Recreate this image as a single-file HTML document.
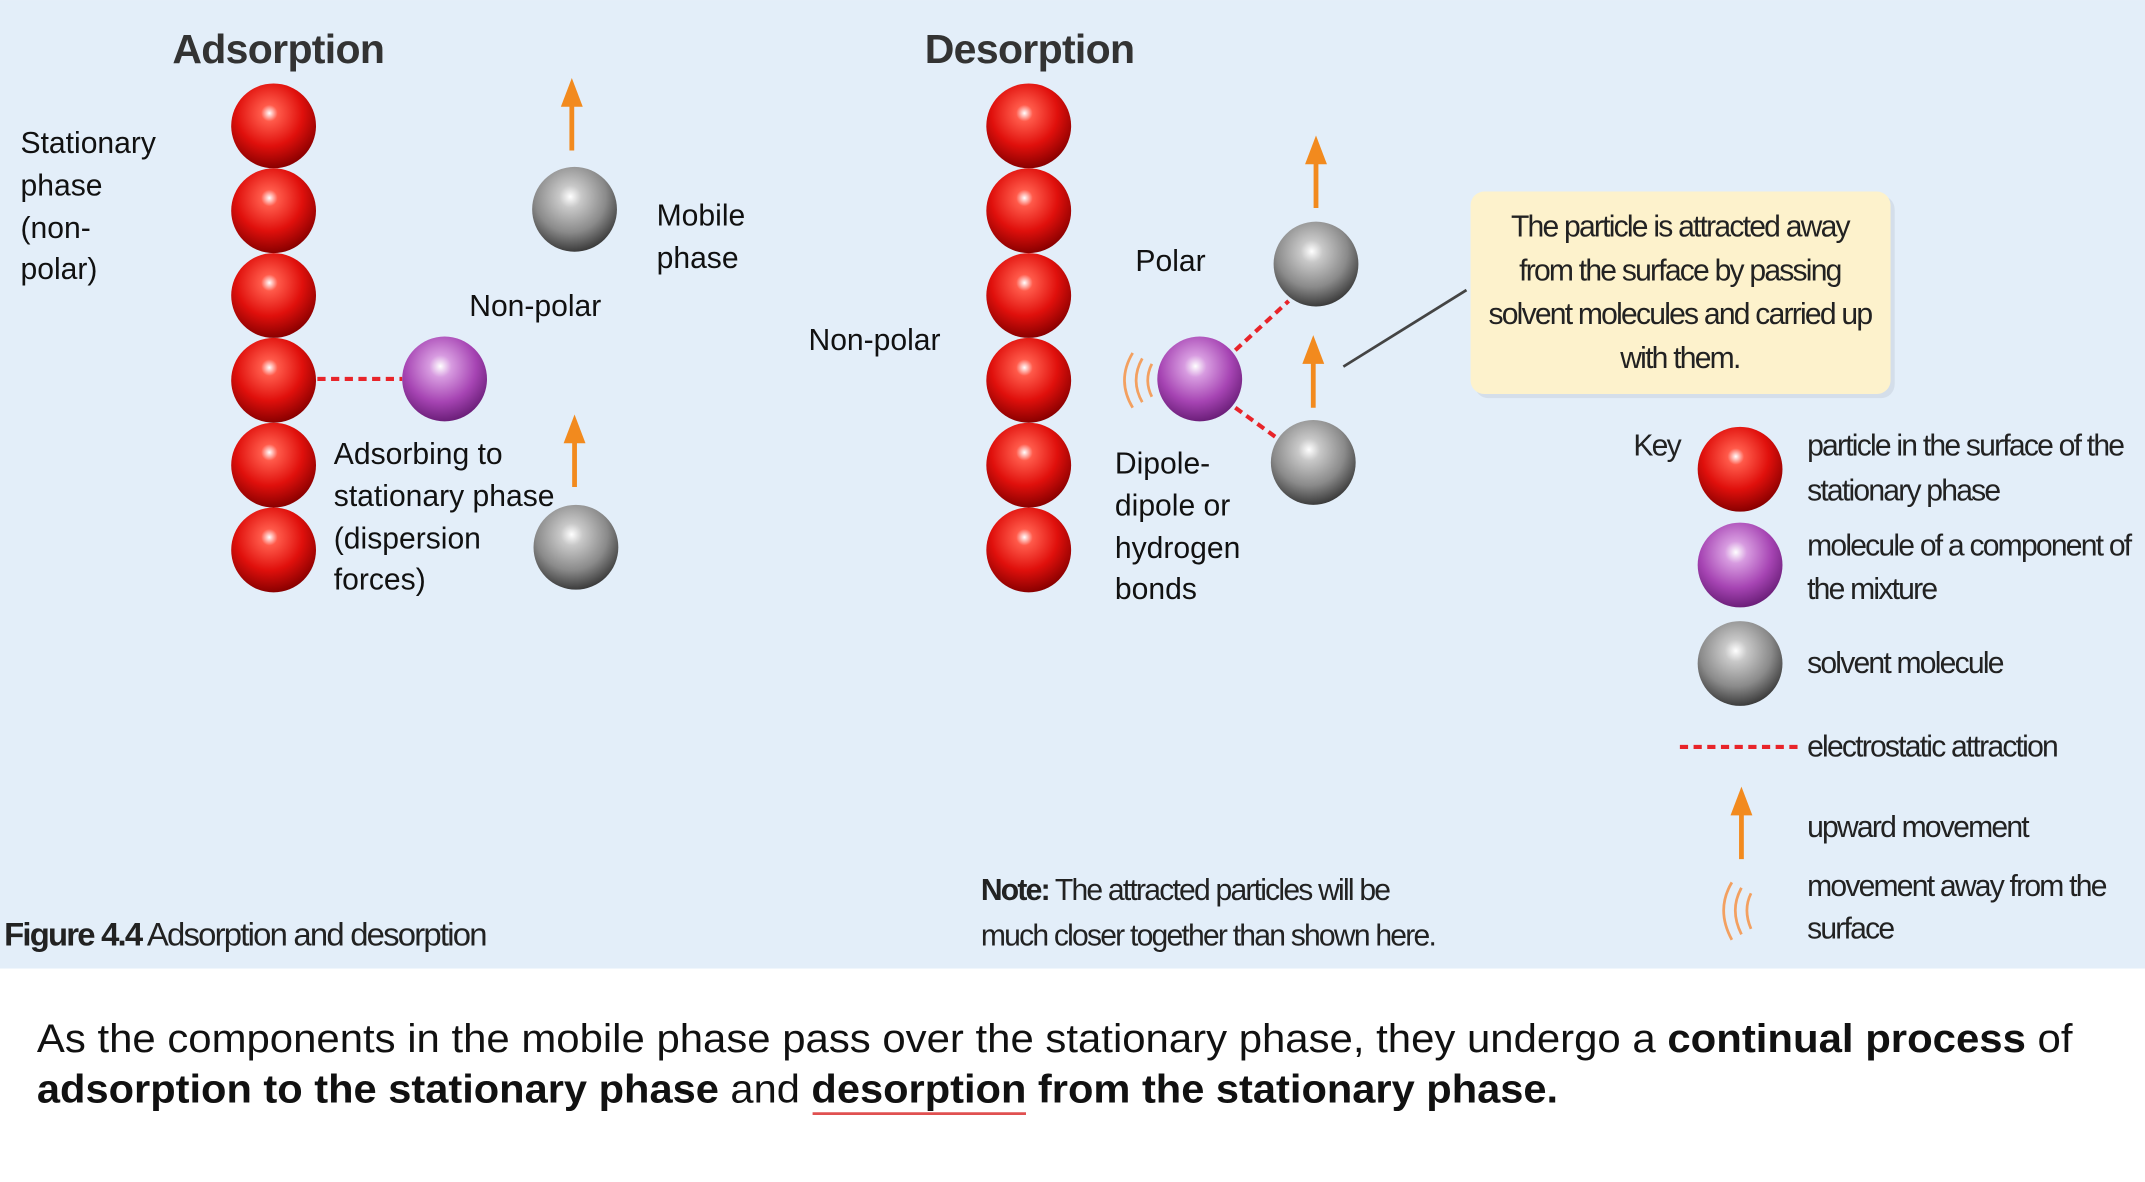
<!DOCTYPE html>
<html><head><meta charset="utf-8"><style>
html,body{margin:0;padding:0;background:#fff}
svg{display:block}
text{font-family:"Liberation Sans",sans-serif}
.lab{font-size:22px;fill:#111}
.cond{font-size:22px;fill:#222;letter-spacing:-1.3px}
.title{font-size:30px;font-weight:bold;fill:#333;letter-spacing:-0.5px}
</style></head><body>
<svg width="2145" height="1182" viewBox="0 0 1568 864" xmlns="http://www.w3.org/2000/svg">
<defs>
<radialGradient id="gr" cx="0.45" cy="0.35" r="0.65"><stop offset="0" stop-color="#fff"/><stop offset="0.15" stop-color="#ff5a4a"/><stop offset="0.6" stop-color="#e0100c"/><stop offset="1" stop-color="#8a0000"/></radialGradient>
<radialGradient id="gp" cx="0.45" cy="0.35" r="0.65"><stop offset="0" stop-color="#fff"/><stop offset="0.2" stop-color="#d79be0"/><stop offset="0.65" stop-color="#a644b3"/><stop offset="1" stop-color="#6c1f7a"/></radialGradient>
<radialGradient id="gg" cx="0.45" cy="0.35" r="0.65"><stop offset="0" stop-color="#fff"/><stop offset="0.2" stop-color="#c8c8c8"/><stop offset="0.65" stop-color="#8a8a8a"/><stop offset="1" stop-color="#3c3c3c"/></radialGradient>
</defs>
<rect x="0" y="0" width="1568" height="708" fill="#e3eef9"/>
<text x="126" y="46" class="title">Adsorption</text>
<text x="676" y="46" class="title">Desorption</text>
<g>
<circle cx="200" cy="92" r="31" fill="url(#gr)"/><circle cx="200" cy="154" r="31" fill="url(#gr)"/><circle cx="200" cy="216" r="31" fill="url(#gr)"/><circle cx="200" cy="278" r="31" fill="url(#gr)"/><circle cx="200" cy="340" r="31" fill="url(#gr)"/><circle cx="200" cy="402" r="31" fill="url(#gr)"/>
</g>
<g>
<circle cx="752" cy="92" r="31" fill="url(#gr)"/><circle cx="752" cy="154" r="31" fill="url(#gr)"/><circle cx="752" cy="216" r="31" fill="url(#gr)"/><circle cx="752" cy="278" r="31" fill="url(#gr)"/><circle cx="752" cy="340" r="31" fill="url(#gr)"/><circle cx="752" cy="402" r="31" fill="url(#gr)"/>
</g>
<g stroke="#e8242a" stroke-width="3" stroke-dasharray="6,4">
<line x1="232" y1="277" x2="294" y2="277"/><line x1="903" y1="256" x2="942" y2="220"/><line x1="903" y1="298" x2="936" y2="322"/>
</g>
<circle cx="325" cy="277" r="31" fill="url(#gp)"/>
<circle cx="877" cy="277" r="31" fill="url(#gp)"/>
<circle cx="420" cy="153" r="31" fill="url(#gg)"/>
<circle cx="421" cy="400" r="31" fill="url(#gg)"/>
<circle cx="962" cy="193" r="31" fill="url(#gg)"/>
<circle cx="960" cy="338" r="31" fill="url(#gg)"/>
<g stroke="#f28a1e" stroke-width="3.5" fill="#f28a1e">
<line x1="418" y1="110" x2="418" y2="72"/><polygon stroke="none" points="410,78 418,57 426,78"/>
<line x1="420" y1="356" x2="420" y2="318"/><polygon stroke="none" points="412,324 420,303 428,324"/>
<line x1="962" y1="152" x2="962" y2="114"/><polygon stroke="none" points="954,120 962,99 970,120"/>
<line x1="960" y1="298" x2="960" y2="260"/><polygon stroke="none" points="952,266 960,245 968,266"/>
<line x1="1273" y1="628" x2="1273" y2="590"/><polygon stroke="none" points="1265,596 1273,575 1281,596"/>
</g>
<g fill="none" stroke="#f3a060" stroke-width="2">
<path d="M828,258 Q816,278 828,298"/><path d="M835,262 Q826,278 835,294"/><path d="M842,266 Q836,278 842,290"/>
<path d="M1266,645 Q1254,665 1266,687"/><path d="M1273,649 Q1264,665 1273,683"/><path d="M1280,653 Q1274,665 1280,679"/>
</g>
<text class="lab"><tspan x="15" y="112">Stationary</tspan><tspan x="15" y="143">phase</tspan><tspan x="15" y="174">(non-</tspan><tspan x="15" y="204">polar)</tspan></text>
<text class="lab"><tspan x="480" y="165">Mobile</tspan><tspan x="480" y="196">phase</tspan></text>
<text x="343" y="231" class="lab">Non-polar</text>
<text class="lab"><tspan x="244" y="339">Adsorbing to</tspan><tspan x="244" y="370">stationary phase</tspan><tspan x="244" y="401">(dispersion</tspan><tspan x="244" y="431">forces)</tspan></text>
<text x="591" y="256" class="lab">Non-polar</text>
<text x="830" y="198" class="lab">Polar</text>
<text class="lab"><tspan x="815" y="346">Dipole-</tspan><tspan x="815" y="377">dipole or</tspan><tspan x="815" y="408">hydrogen</tspan><tspan x="815" y="438">bonds</tspan></text>
<line x1="982" y1="268" x2="1072" y2="212" stroke="#444" stroke-width="2"/>
<rect x="1078" y="143" width="307" height="148" rx="10" fill="#c9d4df" opacity="0.6"/>
<rect x="1075" y="140" width="307" height="148" rx="10" fill="#fdf2cc"/>
<text class="cond" text-anchor="middle"><tspan x="1228" y="173">The particle is attracted away</tspan><tspan x="1228" y="205">from the surface by passing</tspan><tspan x="1228" y="237">solvent molecules and carried up</tspan><tspan x="1228" y="269">with them.</tspan></text>
<text x="1194" y="333" class="cond">Key</text>
<circle cx="1272" cy="343" r="31" fill="url(#gr)"/>
<circle cx="1272" cy="413" r="31" fill="url(#gp)"/>
<circle cx="1272" cy="485" r="31" fill="url(#gg)"/>
<line x1="1228" y1="546" x2="1318" y2="546" stroke="#e8242a" stroke-width="3" stroke-dasharray="6,4"/>
<text class="cond"><tspan x="1321" y="333">particle in the surface of the</tspan><tspan x="1321" y="366">stationary phase</tspan><tspan x="1321" y="406">molecule of a component of</tspan><tspan x="1321" y="438">the mixture</tspan><tspan x="1321" y="492">solvent molecule</tspan><tspan x="1321" y="553">electrostatic attraction</tspan><tspan x="1321" y="612">upward movement</tspan><tspan x="1321" y="655">movement away from the</tspan><tspan x="1321" y="686">surface</tspan></text>
<text class="cond"><tspan x="717" y="658"><tspan font-weight="bold">Note:</tspan> The attracted particles will be</tspan><tspan x="717" y="691">much closer together than shown here.</tspan></text>
<text x="3" y="691" class="cond" style="font-size:24px"><tspan font-weight="bold">Figure 4.4</tspan> Adsorption and desorption</text>
<text x="27" y="769" style="font-size:29px;fill:#111" textLength="1488" lengthAdjust="spacingAndGlyphs">As the components in the mobile phase pass over the stationary phase, they undergo a <tspan font-weight="bold">continual process</tspan> of</text>
<text x="27" y="806" style="font-size:29px;fill:#111" font-weight="bold" textLength="1112" lengthAdjust="spacingAndGlyphs">adsorption to the stationary phase <tspan font-weight="normal">and</tspan> desorption from the stationary phase.</text>
<line x1="594" y1="814" x2="750" y2="814" stroke="#e05050" stroke-width="2"/>
</svg>
</body></html>
